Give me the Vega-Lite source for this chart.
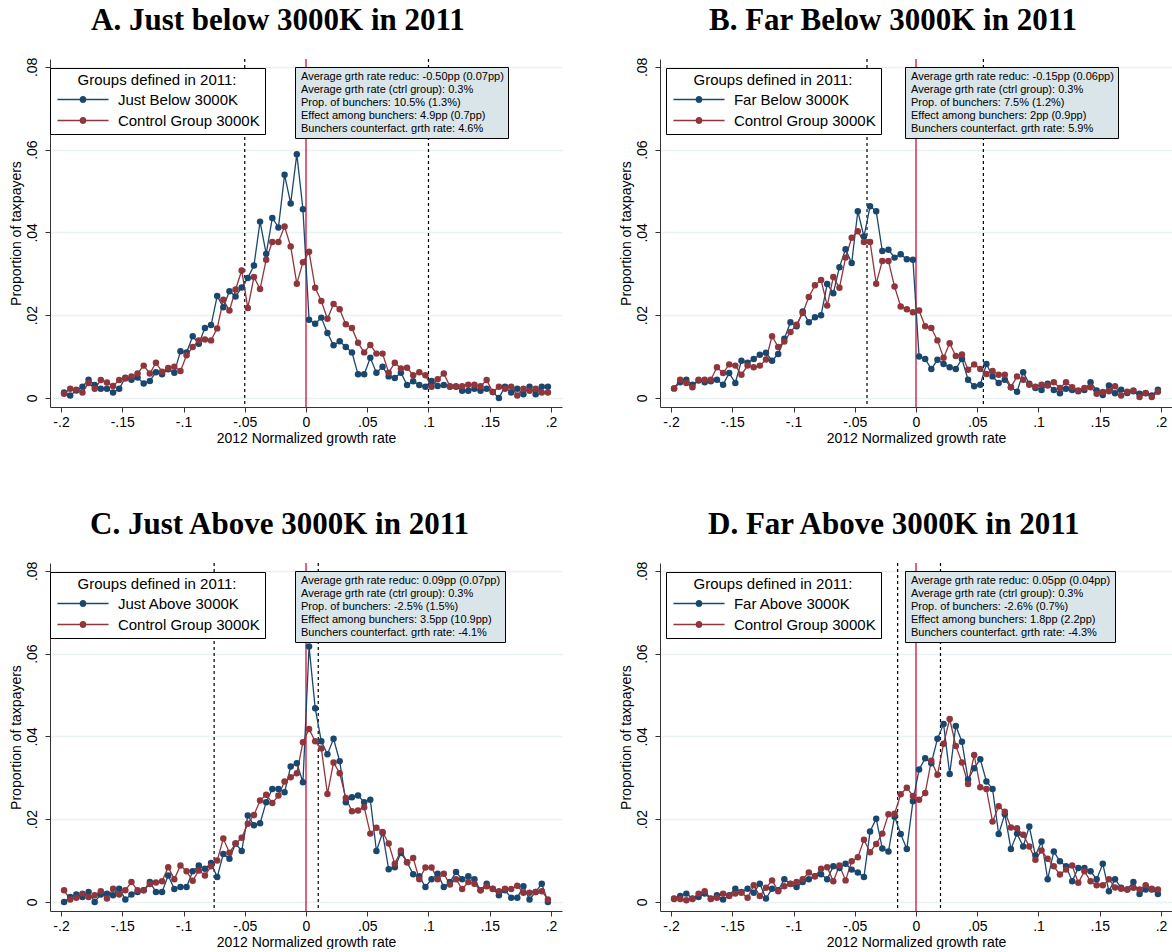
{
"$schema": "https://vega.github.io/schema/vega-lite/v6.json",
"background": "white",
"padding": {"left": 9, "top": 5, "right": 0, "bottom": 0},
"config": {
  "view": {"stroke": null},
  "font": "Liberation Sans",
  "axis": {"labelFont": "Liberation Sans", "titleFont": "Liberation Sans", "labelFontSize": 14, "titleFontSize": 14, "titleFontWeight": "normal", "labelColor": "#000", "titleColor": "#000", "domainColor": "#333", "tickColor": "#333", "tickSize": 5, "domainWidth": 1, "tickWidth": 1},
  "axisX": {"grid": false, "labelPadding": 3, "titlePadding": 2, "labelFlush": false},
  "axisY": {"grid": true, "gridColor": "#eaf2f3", "gridWidth": 1.5, "labelAngle": -90, "labelAlign": "center", "labelBaseline": "bottom", "labelPadding": 6, "titlePadding": 2},
  "title": {"font": "Liberation Serif", "fontSize": 31, "fontWeight": "bold", "color": "#000", "anchor": "start", "frame": "group", "offset": 20},
  "legend": {"labelFont": "Liberation Sans", "titleFont": "Liberation Sans", "labelColor": "#000", "titleColor": "#000"}
},
"datasets": {
"A": [
{"x":-0.1975,"Just Below 3000K":0.0013,"Control Group 3000K":0.0010},
{"x":-0.1925,"Just Below 3000K":0.0006,"Control Group 3000K":0.0022},
{"x":-0.1875,"Just Below 3000K":0.0018,"Control Group 3000K":0.0020},
{"x":-0.1825,"Just Below 3000K":0.0027,"Control Group 3000K":0.0013},
{"x":-0.1775,"Just Below 3000K":0.0044,"Control Group 3000K":0.0036},
{"x":-0.1725,"Just Below 3000K":0.0031,"Control Group 3000K":0.0022},
{"x":-0.1675,"Just Below 3000K":0.0022,"Control Group 3000K":0.0043},
{"x":-0.1625,"Just Below 3000K":0.0022,"Control Group 3000K":0.0037},
{"x":-0.1575,"Just Below 3000K":0.0013,"Control Group 3000K":0.0029},
{"x":-0.1525,"Just Below 3000K":0.0022,"Control Group 3000K":0.0043},
{"x":-0.1475,"Just Below 3000K":0.0049,"Control Group 3000K":0.0047},
{"x":-0.1425,"Just Below 3000K":0.0044,"Control Group 3000K":0.0052},
{"x":-0.1375,"Just Below 3000K":0.0049,"Control Group 3000K":0.0059},
{"x":-0.1325,"Just Below 3000K":0.0035,"Control Group 3000K":0.0078},
{"x":-0.1275,"Just Below 3000K":0.0041,"Control Group 3000K":0.0059},
{"x":-0.1225,"Just Below 3000K":0.0062,"Control Group 3000K":0.0085},
{"x":-0.1175,"Just Below 3000K":0.0057,"Control Group 3000K":0.0063},
{"x":-0.1125,"Just Below 3000K":0.0069,"Control Group 3000K":0.0072},
{"x":-0.1075,"Just Below 3000K":0.0061,"Control Group 3000K":0.0075},
{"x":-0.1025,"Just Below 3000K":0.0113,"Control Group 3000K":0.0065},
{"x":-0.0975,"Just Below 3000K":0.0110,"Control Group 3000K":0.0103},
{"x":-0.0925,"Just Below 3000K":0.0149,"Control Group 3000K":0.0123},
{"x":-0.0875,"Just Below 3000K":0.0131,"Control Group 3000K":0.0139},
{"x":-0.0825,"Just Below 3000K":0.0169,"Control Group 3000K":0.0141},
{"x":-0.0775,"Just Below 3000K":0.0176,"Control Group 3000K":0.0139},
{"x":-0.0725,"Just Below 3000K":0.0246,"Control Group 3000K":0.0168},
{"x":-0.0675,"Just Below 3000K":0.0219,"Control Group 3000K":0.0237},
{"x":-0.0625,"Just Below 3000K":0.0258,"Control Group 3000K":0.0211},
{"x":-0.0575,"Just Below 3000K":0.0245,"Control Group 3000K":0.0262},
{"x":-0.0525,"Just Below 3000K":0.0267,"Control Group 3000K":0.0308},
{"x":-0.0475,"Just Below 3000K":0.0290,"Control Group 3000K":0.0217},
{"x":-0.0425,"Just Below 3000K":0.0320,"Control Group 3000K":0.0292},
{"x":-0.0375,"Just Below 3000K":0.0426,"Control Group 3000K":0.0263},
{"x":-0.0325,"Just Below 3000K":0.0348,"Control Group 3000K":0.0334},
{"x":-0.0275,"Just Below 3000K":0.0435,"Control Group 3000K":0.0377},
{"x":-0.0225,"Just Below 3000K":0.0412,"Control Group 3000K":0.0377},
{"x":-0.0175,"Just Below 3000K":0.0539,"Control Group 3000K":0.0414},
{"x":-0.0125,"Just Below 3000K":0.0470,"Control Group 3000K":0.0366},
{"x":-0.0075,"Just Below 3000K":0.0589,"Control Group 3000K":0.0276},
{"x":-0.0025,"Just Below 3000K":0.0456,"Control Group 3000K":0.0328},
{"x":0.0025,"Just Below 3000K":0.0189,"Control Group 3000K":0.0353},
{"x":0.0075,"Just Below 3000K":0.0179,"Control Group 3000K":0.0266},
{"x":0.0125,"Just Below 3000K":0.0194,"Control Group 3000K":0.0234},
{"x":0.0175,"Just Below 3000K":0.0157,"Control Group 3000K":0.0191},
{"x":0.0225,"Just Below 3000K":0.0127,"Control Group 3000K":0.0227},
{"x":0.0275,"Just Below 3000K":0.0137,"Control Group 3000K":0.0214},
{"x":0.0325,"Just Below 3000K":0.0123,"Control Group 3000K":0.0178},
{"x":0.0375,"Just Below 3000K":0.0110,"Control Group 3000K":0.0169},
{"x":0.0425,"Just Below 3000K":0.0057,"Control Group 3000K":0.0133},
{"x":0.0475,"Just Below 3000K":0.0057,"Control Group 3000K":0.0110},
{"x":0.0525,"Just Below 3000K":0.0097,"Control Group 3000K":0.0128},
{"x":0.0575,"Just Below 3000K":0.0061,"Control Group 3000K":0.0107},
{"x":0.0625,"Just Below 3000K":0.0075,"Control Group 3000K":0.0107},
{"x":0.0675,"Just Below 3000K":0.0052,"Control Group 3000K":0.0061},
{"x":0.0725,"Just Below 3000K":0.0048,"Control Group 3000K":0.0085},
{"x":0.0775,"Just Below 3000K":0.0061,"Control Group 3000K":0.0071},
{"x":0.0825,"Just Below 3000K":0.0031,"Control Group 3000K":0.0073},
{"x":0.0875,"Just Below 3000K":0.0040,"Control Group 3000K":0.0055},
{"x":0.0925,"Just Below 3000K":0.0031,"Control Group 3000K":0.0062},
{"x":0.0975,"Just Below 3000K":0.0027,"Control Group 3000K":0.0055},
{"x":0.1025,"Just Below 3000K":0.0041,"Control Group 3000K":0.0027},
{"x":0.1075,"Just Below 3000K":0.0029,"Control Group 3000K":0.0045},
{"x":0.1125,"Just Below 3000K":0.0031,"Control Group 3000K":0.0059},
{"x":0.1175,"Just Below 3000K":0.0027,"Control Group 3000K":0.0028},
{"x":0.1225,"Just Below 3000K":0.0027,"Control Group 3000K":0.0028},
{"x":0.1275,"Just Below 3000K":0.0017,"Control Group 3000K":0.0028},
{"x":0.1325,"Just Below 3000K":0.0017,"Control Group 3000K":0.0032},
{"x":0.1375,"Just Below 3000K":0.0022,"Control Group 3000K":0.0032},
{"x":0.1425,"Just Below 3000K":0.0017,"Control Group 3000K":0.0028},
{"x":0.1475,"Just Below 3000K":0.0022,"Control Group 3000K":0.0043},
{"x":0.1525,"Just Below 3000K":0.0014,"Control Group 3000K":0.0014},
{"x":0.1575,"Just Below 3000K":0.0000,"Control Group 3000K":0.0027},
{"x":0.1625,"Just Below 3000K":0.0027,"Control Group 3000K":0.0022},
{"x":0.1675,"Just Below 3000K":0.0013,"Control Group 3000K":0.0027},
{"x":0.1725,"Just Below 3000K":0.0022,"Control Group 3000K":0.0006},
{"x":0.1775,"Just Below 3000K":0.0009,"Control Group 3000K":0.0022},
{"x":0.1825,"Just Below 3000K":0.0027,"Control Group 3000K":0.0017},
{"x":0.1875,"Just Below 3000K":0.0009,"Control Group 3000K":0.0022},
{"x":0.1925,"Just Below 3000K":0.0027,"Control Group 3000K":0.0013},
{"x":0.1975,"Just Below 3000K":0.0027,"Control Group 3000K":0.0013}
],
"B": [
{"x":-0.1975,"Far Below 3000K":0.0023,"Control Group 3000K":0.0023},
{"x":-0.1925,"Far Below 3000K":0.0038,"Control Group 3000K":0.0044},
{"x":-0.1875,"Far Below 3000K":0.0044,"Control Group 3000K":0.0036},
{"x":-0.1825,"Far Below 3000K":0.0032,"Control Group 3000K":0.0026},
{"x":-0.1775,"Far Below 3000K":0.0042,"Control Group 3000K":0.0044},
{"x":-0.1725,"Far Below 3000K":0.0038,"Control Group 3000K":0.0044},
{"x":-0.1675,"Far Below 3000K":0.0040,"Control Group 3000K":0.0044},
{"x":-0.1625,"Far Below 3000K":0.0044,"Control Group 3000K":0.0074},
{"x":-0.1575,"Far Below 3000K":0.0032,"Control Group 3000K":0.0060},
{"x":-0.1525,"Far Below 3000K":0.0060,"Control Group 3000K":0.0081},
{"x":-0.1475,"Far Below 3000K":0.0036,"Control Group 3000K":0.0078},
{"x":-0.1425,"Far Below 3000K":0.0090,"Control Group 3000K":0.0056},
{"x":-0.1375,"Far Below 3000K":0.0085,"Control Group 3000K":0.0078},
{"x":-0.1325,"Far Below 3000K":0.0094,"Control Group 3000K":0.0074},
{"x":-0.1275,"Far Below 3000K":0.0104,"Control Group 3000K":0.0078},
{"x":-0.1225,"Far Below 3000K":0.0109,"Control Group 3000K":0.0093},
{"x":-0.1175,"Far Below 3000K":0.0090,"Control Group 3000K":0.0149},
{"x":-0.1125,"Far Below 3000K":0.0106,"Control Group 3000K":0.0123},
{"x":-0.1075,"Far Below 3000K":0.0143,"Control Group 3000K":0.0136},
{"x":-0.1025,"Far Below 3000K":0.0183,"Control Group 3000K":0.0159},
{"x":-0.0975,"Far Below 3000K":0.0173,"Control Group 3000K":0.0177},
{"x":-0.0925,"Far Below 3000K":0.0209,"Control Group 3000K":0.0205},
{"x":-0.0875,"Far Below 3000K":0.0183,"Control Group 3000K":0.0244},
{"x":-0.0825,"Far Below 3000K":0.0195,"Control Group 3000K":0.0272},
{"x":-0.0775,"Far Below 3000K":0.0200,"Control Group 3000K":0.0285},
{"x":-0.0725,"Far Below 3000K":0.0275,"Control Group 3000K":0.0223},
{"x":-0.0675,"Far Below 3000K":0.0253,"Control Group 3000K":0.0292},
{"x":-0.0625,"Far Below 3000K":0.0316,"Control Group 3000K":0.0266},
{"x":-0.0575,"Far Below 3000K":0.0359,"Control Group 3000K":0.0339},
{"x":-0.0525,"Far Below 3000K":0.0326,"Control Group 3000K":0.0387},
{"x":-0.0475,"Far Below 3000K":0.0451,"Control Group 3000K":0.0403},
{"x":-0.0425,"Far Below 3000K":0.0390,"Control Group 3000K":0.0377},
{"x":-0.0375,"Far Below 3000K":0.0463,"Control Group 3000K":0.0377},
{"x":-0.0325,"Far Below 3000K":0.0451,"Control Group 3000K":0.0276},
{"x":-0.0275,"Far Below 3000K":0.0355,"Control Group 3000K":0.0331},
{"x":-0.0225,"Far Below 3000K":0.0358,"Control Group 3000K":0.0331},
{"x":-0.0175,"Far Below 3000K":0.0339,"Control Group 3000K":0.0269},
{"x":-0.0125,"Far Below 3000K":0.0347,"Control Group 3000K":0.0221},
{"x":-0.0075,"Far Below 3000K":0.0335,"Control Group 3000K":0.0214},
{"x":-0.0025,"Far Below 3000K":0.0334,"Control Group 3000K":0.0207},
{"x":0.0025,"Far Below 3000K":0.0100,"Control Group 3000K":0.0211},
{"x":0.0075,"Far Below 3000K":0.0094,"Control Group 3000K":0.0173},
{"x":0.0125,"Far Below 3000K":0.0070,"Control Group 3000K":0.0169},
{"x":0.0175,"Far Below 3000K":0.0092,"Control Group 3000K":0.0139},
{"x":0.0225,"Far Below 3000K":0.0082,"Control Group 3000K":0.0097},
{"x":0.0275,"Far Below 3000K":0.0074,"Control Group 3000K":0.0132},
{"x":0.0325,"Far Below 3000K":0.0070,"Control Group 3000K":0.0101},
{"x":0.0375,"Far Below 3000K":0.0094,"Control Group 3000K":0.0105},
{"x":0.0425,"Far Below 3000K":0.0044,"Control Group 3000K":0.0068},
{"x":0.0475,"Far Below 3000K":0.0028,"Control Group 3000K":0.0081},
{"x":0.0525,"Far Below 3000K":0.0032,"Control Group 3000K":0.0070},
{"x":0.0575,"Far Below 3000K":0.0082,"Control Group 3000K":0.0058},
{"x":0.0625,"Far Below 3000K":0.0052,"Control Group 3000K":0.0065},
{"x":0.0675,"Far Below 3000K":0.0036,"Control Group 3000K":0.0056},
{"x":0.0725,"Far Below 3000K":0.0044,"Control Group 3000K":0.0056},
{"x":0.0775,"Far Below 3000K":0.0026,"Control Group 3000K":0.0026},
{"x":0.0825,"Far Below 3000K":0.0015,"Control Group 3000K":0.0052},
{"x":0.0875,"Far Below 3000K":0.0062,"Control Group 3000K":0.0044},
{"x":0.0925,"Far Below 3000K":0.0034,"Control Group 3000K":0.0032},
{"x":0.0975,"Far Below 3000K":0.0024,"Control Group 3000K":0.0027},
{"x":0.1025,"Far Below 3000K":0.0019,"Control Group 3000K":0.0032},
{"x":0.1075,"Far Below 3000K":0.0034,"Control Group 3000K":0.0030},
{"x":0.1125,"Far Below 3000K":0.0019,"Control Group 3000K":0.0038},
{"x":0.1175,"Far Below 3000K":0.0011,"Control Group 3000K":0.0024},
{"x":0.1225,"Far Below 3000K":0.0022,"Control Group 3000K":0.0038},
{"x":0.1275,"Far Below 3000K":0.0019,"Control Group 3000K":0.0026},
{"x":0.1325,"Far Below 3000K":0.0016,"Control Group 3000K":0.0018},
{"x":0.1375,"Far Below 3000K":0.0019,"Control Group 3000K":0.0024},
{"x":0.1425,"Far Below 3000K":0.0038,"Control Group 3000K":0.0026},
{"x":0.1475,"Far Below 3000K":0.0018,"Control Group 3000K":0.0010},
{"x":0.1525,"Far Below 3000K":0.0007,"Control Group 3000K":0.0014},
{"x":0.1575,"Far Below 3000K":0.0030,"Control Group 3000K":0.0016},
{"x":0.1625,"Far Below 3000K":0.0011,"Control Group 3000K":0.0028},
{"x":0.1675,"Far Below 3000K":0.0020,"Control Group 3000K":0.0006},
{"x":0.1725,"Far Below 3000K":0.0012,"Control Group 3000K":0.0015},
{"x":0.1775,"Far Below 3000K":0.0016,"Control Group 3000K":0.0018},
{"x":0.1825,"Far Below 3000K":0.0010,"Control Group 3000K":0.0002},
{"x":0.1875,"Far Below 3000K":0.0011,"Control Group 3000K":0.0012},
{"x":0.1925,"Far Below 3000K":0.0006,"Control Group 3000K":0.0002},
{"x":0.1975,"Far Below 3000K":0.0020,"Control Group 3000K":0.0015}
],
"C": [
{"x":-0.1975,"Just Above 3000K":0.0000,"Control Group 3000K":0.0028},
{"x":-0.1925,"Just Above 3000K":0.0012,"Control Group 3000K":0.0006},
{"x":-0.1875,"Just Above 3000K":0.0018,"Control Group 3000K":0.0010},
{"x":-0.1825,"Just Above 3000K":0.0012,"Control Group 3000K":0.0020},
{"x":-0.1775,"Just Above 3000K":0.0024,"Control Group 3000K":0.0012},
{"x":-0.1725,"Just Above 3000K":0.0000,"Control Group 3000K":0.0016},
{"x":-0.1675,"Just Above 3000K":0.0018,"Control Group 3000K":0.0026},
{"x":-0.1625,"Just Above 3000K":0.0020,"Control Group 3000K":0.0008},
{"x":-0.1575,"Just Above 3000K":0.0016,"Control Group 3000K":0.0032},
{"x":-0.1525,"Just Above 3000K":0.0032,"Control Group 3000K":0.0018},
{"x":-0.1475,"Just Above 3000K":0.0006,"Control Group 3000K":0.0028},
{"x":-0.1425,"Just Above 3000K":0.0018,"Control Group 3000K":0.0048},
{"x":-0.1375,"Just Above 3000K":0.0024,"Control Group 3000K":0.0028},
{"x":-0.1325,"Just Above 3000K":0.0028,"Control Group 3000K":0.0028},
{"x":-0.1275,"Just Above 3000K":0.0048,"Control Group 3000K":0.0043},
{"x":-0.1225,"Just Above 3000K":0.0024,"Control Group 3000K":0.0047},
{"x":-0.1175,"Just Above 3000K":0.0024,"Control Group 3000K":0.0050},
{"x":-0.1125,"Just Above 3000K":0.0064,"Control Group 3000K":0.0084},
{"x":-0.1075,"Just Above 3000K":0.0031,"Control Group 3000K":0.0055},
{"x":-0.1025,"Just Above 3000K":0.0036,"Control Group 3000K":0.0088},
{"x":-0.0975,"Just Above 3000K":0.0036,"Control Group 3000K":0.0074},
{"x":-0.0925,"Just Above 3000K":0.0074,"Control Group 3000K":0.0051},
{"x":-0.0875,"Just Above 3000K":0.0088,"Control Group 3000K":0.0076},
{"x":-0.0825,"Just Above 3000K":0.0080,"Control Group 3000K":0.0064},
{"x":-0.0775,"Just Above 3000K":0.0094,"Control Group 3000K":0.0086},
{"x":-0.0725,"Just Above 3000K":0.0060,"Control Group 3000K":0.0100},
{"x":-0.0675,"Just Above 3000K":0.0116,"Control Group 3000K":0.0153},
{"x":-0.0625,"Just Above 3000K":0.0104,"Control Group 3000K":0.0119},
{"x":-0.0575,"Just Above 3000K":0.0141,"Control Group 3000K":0.0141},
{"x":-0.0525,"Just Above 3000K":0.0123,"Control Group 3000K":0.0155},
{"x":-0.0475,"Just Above 3000K":0.0209,"Control Group 3000K":0.0189},
{"x":-0.0425,"Just Above 3000K":0.0185,"Control Group 3000K":0.0210},
{"x":-0.0375,"Just Above 3000K":0.0190,"Control Group 3000K":0.0245},
{"x":-0.0325,"Just Above 3000K":0.0241,"Control Group 3000K":0.0259},
{"x":-0.0275,"Just Above 3000K":0.0273,"Control Group 3000K":0.0239},
{"x":-0.0225,"Just Above 3000K":0.0273,"Control Group 3000K":0.0257},
{"x":-0.0175,"Just Above 3000K":0.0265,"Control Group 3000K":0.0291},
{"x":-0.0125,"Just Above 3000K":0.0327,"Control Group 3000K":0.0301},
{"x":-0.0075,"Just Above 3000K":0.0335,"Control Group 3000K":0.0311},
{"x":-0.0025,"Just Above 3000K":0.0289,"Control Group 3000K":0.0386},
{"x":0.0025,"Just Above 3000K":0.0617,"Control Group 3000K":0.0418},
{"x":0.0075,"Just Above 3000K":0.0468,"Control Group 3000K":0.0388},
{"x":0.0125,"Just Above 3000K":0.0388,"Control Group 3000K":0.0371},
{"x":0.0175,"Just Above 3000K":0.0357,"Control Group 3000K":0.0261},
{"x":0.0225,"Just Above 3000K":0.0394,"Control Group 3000K":0.0337},
{"x":0.0275,"Just Above 3000K":0.0340,"Control Group 3000K":0.0311},
{"x":0.0325,"Just Above 3000K":0.0241,"Control Group 3000K":0.0251},
{"x":0.0375,"Just Above 3000K":0.0253,"Control Group 3000K":0.0219},
{"x":0.0425,"Just Above 3000K":0.0257,"Control Group 3000K":0.0221},
{"x":0.0475,"Just Above 3000K":0.0241,"Control Group 3000K":0.0229},
{"x":0.0525,"Just Above 3000K":0.0247,"Control Group 3000K":0.0165},
{"x":0.0575,"Just Above 3000K":0.0123,"Control Group 3000K":0.0179},
{"x":0.0625,"Just Above 3000K":0.0167,"Control Group 3000K":0.0169},
{"x":0.0675,"Just Above 3000K":0.0079,"Control Group 3000K":0.0141},
{"x":0.0725,"Just Above 3000K":0.0084,"Control Group 3000K":0.0092},
{"x":0.0775,"Just Above 3000K":0.0118,"Control Group 3000K":0.0124},
{"x":0.0825,"Just Above 3000K":0.0096,"Control Group 3000K":0.0096},
{"x":0.0875,"Just Above 3000K":0.0067,"Control Group 3000K":0.0106},
{"x":0.0925,"Just Above 3000K":0.0062,"Control Group 3000K":0.0055},
{"x":0.0975,"Just Above 3000K":0.0036,"Control Group 3000K":0.0083},
{"x":0.1025,"Just Above 3000K":0.0055,"Control Group 3000K":0.0083},
{"x":0.1075,"Just Above 3000K":0.0068,"Control Group 3000K":0.0055},
{"x":0.1125,"Just Above 3000K":0.0036,"Control Group 3000K":0.0068},
{"x":0.1175,"Just Above 3000K":0.0048,"Control Group 3000K":0.0042},
{"x":0.1225,"Just Above 3000K":0.0072,"Control Group 3000K":0.0055},
{"x":0.1275,"Just Above 3000K":0.0055,"Control Group 3000K":0.0031},
{"x":0.1325,"Just Above 3000K":0.0062,"Control Group 3000K":0.0048},
{"x":0.1375,"Just Above 3000K":0.0055,"Control Group 3000K":0.0044},
{"x":0.1425,"Just Above 3000K":0.0028,"Control Group 3000K":0.0028},
{"x":0.1475,"Just Above 3000K":0.0044,"Control Group 3000K":0.0038},
{"x":0.1525,"Just Above 3000K":0.0032,"Control Group 3000K":0.0031},
{"x":0.1575,"Just Above 3000K":0.0016,"Control Group 3000K":0.0026},
{"x":0.1625,"Just Above 3000K":0.0028,"Control Group 3000K":0.0032},
{"x":0.1675,"Just Above 3000K":0.0010,"Control Group 3000K":0.0031},
{"x":0.1725,"Just Above 3000K":0.0010,"Control Group 3000K":0.0039},
{"x":0.1775,"Just Above 3000K":0.0038,"Control Group 3000K":0.0022},
{"x":0.1825,"Just Above 3000K":0.0006,"Control Group 3000K":0.0022},
{"x":0.1875,"Just Above 3000K":0.0024,"Control Group 3000K":0.0024},
{"x":0.1925,"Just Above 3000K":0.0044,"Control Group 3000K":0.0026},
{"x":0.1975,"Just Above 3000K":0.0000,"Control Group 3000K":0.0006}
],
"D": [
{"x":-0.1975,"Far Above 3000K":0.0008,"Control Group 3000K":0.0007},
{"x":-0.1925,"Far Above 3000K":0.0014,"Control Group 3000K":0.0007},
{"x":-0.1875,"Far Above 3000K":0.0020,"Control Group 3000K":0.0004},
{"x":-0.1825,"Far Above 3000K":0.0008,"Control Group 3000K":0.0007},
{"x":-0.1775,"Far Above 3000K":0.0012,"Control Group 3000K":0.0020},
{"x":-0.1725,"Far Above 3000K":0.0020,"Control Group 3000K":0.0026},
{"x":-0.1675,"Far Above 3000K":0.0008,"Control Group 3000K":0.0007},
{"x":-0.1625,"Far Above 3000K":0.0016,"Control Group 3000K":0.0010},
{"x":-0.1575,"Far Above 3000K":0.0006,"Control Group 3000K":0.0020},
{"x":-0.1525,"Far Above 3000K":0.0016,"Control Group 3000K":0.0014},
{"x":-0.1475,"Far Above 3000K":0.0032,"Control Group 3000K":0.0020},
{"x":-0.1425,"Far Above 3000K":0.0024,"Control Group 3000K":0.0022},
{"x":-0.1375,"Far Above 3000K":0.0032,"Control Group 3000K":0.0010},
{"x":-0.1325,"Far Above 3000K":0.0022,"Control Group 3000K":0.0040},
{"x":-0.1275,"Far Above 3000K":0.0044,"Control Group 3000K":0.0014},
{"x":-0.1225,"Far Above 3000K":0.0008,"Control Group 3000K":0.0034},
{"x":-0.1175,"Far Above 3000K":0.0032,"Control Group 3000K":0.0052},
{"x":-0.1125,"Far Above 3000K":0.0028,"Control Group 3000K":0.0026},
{"x":-0.1075,"Far Above 3000K":0.0055,"Control Group 3000K":0.0038},
{"x":-0.1025,"Far Above 3000K":0.0043,"Control Group 3000K":0.0044},
{"x":-0.0975,"Far Above 3000K":0.0036,"Control Group 3000K":0.0048},
{"x":-0.0925,"Far Above 3000K":0.0048,"Control Group 3000K":0.0055},
{"x":-0.0875,"Far Above 3000K":0.0055,"Control Group 3000K":0.0071},
{"x":-0.0825,"Far Above 3000K":0.0062,"Control Group 3000K":0.0062},
{"x":-0.0775,"Far Above 3000K":0.0067,"Control Group 3000K":0.0080},
{"x":-0.0725,"Far Above 3000K":0.0055,"Control Group 3000K":0.0084},
{"x":-0.0675,"Far Above 3000K":0.0086,"Control Group 3000K":0.0050},
{"x":-0.0625,"Far Above 3000K":0.0082,"Control Group 3000K":0.0088},
{"x":-0.0575,"Far Above 3000K":0.0092,"Control Group 3000K":0.0052},
{"x":-0.0525,"Far Above 3000K":0.0078,"Control Group 3000K":0.0098},
{"x":-0.0475,"Far Above 3000K":0.0071,"Control Group 3000K":0.0108},
{"x":-0.0425,"Far Above 3000K":0.0060,"Control Group 3000K":0.0150},
{"x":-0.0375,"Far Above 3000K":0.0170,"Control Group 3000K":0.0120},
{"x":-0.0325,"Far Above 3000K":0.0201,"Control Group 3000K":0.0140},
{"x":-0.0275,"Far Above 3000K":0.0129,"Control Group 3000K":0.0165},
{"x":-0.0225,"Far Above 3000K":0.0122,"Control Group 3000K":0.0212},
{"x":-0.0175,"Far Above 3000K":0.0206,"Control Group 3000K":0.0213},
{"x":-0.0125,"Far Above 3000K":0.0164,"Control Group 3000K":0.0260},
{"x":-0.0075,"Far Above 3000K":0.0128,"Control Group 3000K":0.0276},
{"x":-0.0025,"Far Above 3000K":0.0243,"Control Group 3000K":0.0256},
{"x":0.0025,"Far Above 3000K":0.0320,"Control Group 3000K":0.0247},
{"x":0.0075,"Far Above 3000K":0.0347,"Control Group 3000K":0.0263},
{"x":0.0125,"Far Above 3000K":0.0335,"Control Group 3000K":0.0341},
{"x":0.0175,"Far Above 3000K":0.0394,"Control Group 3000K":0.0307},
{"x":0.0225,"Far Above 3000K":0.0430,"Control Group 3000K":0.0382},
{"x":0.0275,"Far Above 3000K":0.0309,"Control Group 3000K":0.0442},
{"x":0.0325,"Far Above 3000K":0.0425,"Control Group 3000K":0.0377},
{"x":0.0375,"Far Above 3000K":0.0387,"Control Group 3000K":0.0337},
{"x":0.0425,"Far Above 3000K":0.0296,"Control Group 3000K":0.0285},
{"x":0.0475,"Far Above 3000K":0.0323,"Control Group 3000K":0.0355},
{"x":0.0525,"Far Above 3000K":0.0345,"Control Group 3000K":0.0277},
{"x":0.0575,"Far Above 3000K":0.0291,"Control Group 3000K":0.0273},
{"x":0.0625,"Far Above 3000K":0.0273,"Control Group 3000K":0.0194},
{"x":0.0675,"Far Above 3000K":0.0164,"Control Group 3000K":0.0231},
{"x":0.0725,"Far Above 3000K":0.0212,"Control Group 3000K":0.0218},
{"x":0.0775,"Far Above 3000K":0.0128,"Control Group 3000K":0.0180},
{"x":0.0825,"Far Above 3000K":0.0165,"Control Group 3000K":0.0178},
{"x":0.0875,"Far Above 3000K":0.0134,"Control Group 3000K":0.0162},
{"x":0.0925,"Far Above 3000K":0.0182,"Control Group 3000K":0.0134},
{"x":0.0975,"Far Above 3000K":0.0112,"Control Group 3000K":0.0102},
{"x":0.1025,"Far Above 3000K":0.0146,"Control Group 3000K":0.0124},
{"x":0.1075,"Far Above 3000K":0.0055,"Control Group 3000K":0.0104},
{"x":0.1125,"Far Above 3000K":0.0122,"Control Group 3000K":0.0086},
{"x":0.1175,"Far Above 3000K":0.0098,"Control Group 3000K":0.0066},
{"x":0.1225,"Far Above 3000K":0.0086,"Control Group 3000K":0.0078},
{"x":0.1275,"Far Above 3000K":0.0050,"Control Group 3000K":0.0088},
{"x":0.1325,"Far Above 3000K":0.0082,"Control Group 3000K":0.0046},
{"x":0.1375,"Far Above 3000K":0.0082,"Control Group 3000K":0.0074},
{"x":0.1425,"Far Above 3000K":0.0074,"Control Group 3000K":0.0050},
{"x":0.1475,"Far Above 3000K":0.0055,"Control Group 3000K":0.0040},
{"x":0.1525,"Far Above 3000K":0.0092,"Control Group 3000K":0.0040},
{"x":0.1575,"Far Above 3000K":0.0026,"Control Group 3000K":0.0055},
{"x":0.1625,"Far Above 3000K":0.0055,"Control Group 3000K":0.0035},
{"x":0.1675,"Far Above 3000K":0.0034,"Control Group 3000K":0.0032},
{"x":0.1725,"Far Above 3000K":0.0030,"Control Group 3000K":0.0030},
{"x":0.1775,"Far Above 3000K":0.0048,"Control Group 3000K":0.0034},
{"x":0.1825,"Far Above 3000K":0.0019,"Control Group 3000K":0.0030},
{"x":0.1875,"Far Above 3000K":0.0030,"Control Group 3000K":0.0040},
{"x":0.1925,"Far Above 3000K":0.0030,"Control Group 3000K":0.0032},
{"x":0.1975,"Far Above 3000K":0.0019,"Control Group 3000K":0.0030}
]
},
"spacing": 64,
"resolve": {"scale": {"color": "independent", "shape": "independent", "stroke": "independent"}},
"vconcat": [
{"hconcat": [
{"width": 512, "height": 348,
 "title": {"text": "A. Just below 3000K in 2011", "dx": 41},
 "layer": [
  {"data": {"values": [{"x": -0.05}, {"x": 0.1}]}, "mark": {"type": "rule", "strokeDash": [3, 3], "color": "#000", "strokeWidth": 1.2}, "encoding": {"x": {"field": "x", "type": "quantitative"}}},
  {"data": {"values": [{"x": 0}]}, "mark": {"type": "rule", "color": "#d0103a", "strokeWidth": 1.3}, "encoding": {"x": {"field": "x", "type": "quantitative"}}},
  {"data": {"name": "A"}, "transform": [{"fold": ["Just Below 3000K", "Control Group 3000K"], "as": ["series", "value"]}],
   "mark": {"type": "line", "strokeWidth": 1.3},
   "encoding": {
    "x": {"field": "x", "type": "quantitative", "scale": {"domain": [-0.209, 0.209], "nice": false, "zero": false}, "axis": {"values": [-0.2, -0.15, -0.1, -0.05, 0, 0.05, 0.1, 0.15, 0.2], "labelExpr": "datum.value == 0 ? '0' : (datum.value < 0 ? '-' : '') + replace(format(abs(datum.value), '.2~f'), '0.', '.')", "title": "2012 Normalized growth rate"}},
    "y": {"field": "value", "type": "quantitative", "scale": {"domain": [-0.0022, 0.0819], "nice": false, "zero": false}, "axis": {"values": [0, 0.02, 0.04, 0.06, 0.08], "labelExpr": "datum.value == 0 ? '0' : replace(format(datum.value, '.2f'), '0.', '.')", "title": "Proportion of taxpayers"}},
    "stroke": {"field": "series", "type": "nominal", "scale": {"domain": ["Control Group 3000K", "Just Below 3000K"], "range": ["#90353b", "#1a476f"]}, "legend": null}}},
  {"data": {"name": "A"}, "transform": [{"fold": ["Just Below 3000K", "Control Group 3000K"], "as": ["series", "value"]}],
   "mark": {"type": "point", "filled": true, "size": 42, "opacity": 1},
   "encoding": {
    "x": {"field": "x", "type": "quantitative"},
    "y": {"field": "value", "type": "quantitative"},
    "color": {"field": "series", "type": "nominal", "scale": {"domain": ["Just Below 3000K", "Control Group 3000K"], "range": ["#1a476f", "#90353b"]},
     "legend": {"orient": "none", "legendX": 0, "legendY": 9, "title": "Groups defined in 2011:", "titleFontSize": 15, "titleFontWeight": "normal", "titleAnchor": "middle", "titlePadding": 4, "labelFontSize": 15, "symbolType": "M-7.3,-0.2H-1V0.2H-7.3ZM1,-0.2H7.3V0.2H1ZM-1,0A1,1 0 1,1 1,0A1,1 0 1,1 -1,0Z", "symbolSize": 49, "symbolOffset": 20.5, "labelOffset": 27.4, "symbolStrokeWidth": 0, "rowPadding": 5, "padding": 5, "fillColor": "#fff", "strokeColor": "#000", "labelLimit": 300}}}},
  {"data": {"values": [{"info": "Average grth rate reduc: -0.50pp (0.07pp)"}, {"info": "Average grth rate (ctrl group): 0.3%"}, {"info": "Prop. of bunchers: 10.5% (1.3%)"}, {"info": "Effect among bunchers: 4.9pp (0.7pp)"}, {"info": "Bunchers counterfact. grth rate: 4.6%"}]},
   "mark": {"type": "point", "opacity": 0},
   "encoding": {"shape": {"field": "info", "type": "nominal", "sort": null, "legend": {"orient": "none", "legendX": 245, "legendY": 8, "title": null, "labelFontSize": 11, "symbolSize": 0, "symbolOpacity": 0, "symbolStrokeWidth": 0, "labelOffset": -9, "rowPadding": 1, "padding": 4, "fillColor": "#d9e5e9", "strokeColor": "#000", "labelLimit": 400}}}}
 ]},
{"width": 512, "height": 348,
 "title": {"text": "B. Far Below 3000K in 2011", "dx": 49},
 "layer": [
  {"data": {"values": [{"x": -0.04}, {"x": 0.055}]}, "mark": {"type": "rule", "strokeDash": [3, 3], "color": "#000", "strokeWidth": 1.2}, "encoding": {"x": {"field": "x", "type": "quantitative"}}},
  {"data": {"values": [{"x": 0}]}, "mark": {"type": "rule", "color": "#d0103a", "strokeWidth": 1.3}, "encoding": {"x": {"field": "x", "type": "quantitative"}}},
  {"data": {"name": "B"}, "transform": [{"fold": ["Far Below 3000K", "Control Group 3000K"], "as": ["series", "value"]}],
   "mark": {"type": "line", "strokeWidth": 1.3},
   "encoding": {
    "x": {"field": "x", "type": "quantitative", "scale": {"domain": [-0.209, 0.209], "nice": false, "zero": false}, "axis": {"values": [-0.2, -0.15, -0.1, -0.05, 0, 0.05, 0.1, 0.15, 0.2], "labelExpr": "datum.value == 0 ? '0' : (datum.value < 0 ? '-' : '') + replace(format(abs(datum.value), '.2~f'), '0.', '.')", "title": "2012 Normalized growth rate"}},
    "y": {"field": "value", "type": "quantitative", "scale": {"domain": [-0.0022, 0.0819], "nice": false, "zero": false}, "axis": {"values": [0, 0.02, 0.04, 0.06, 0.08], "labelExpr": "datum.value == 0 ? '0' : replace(format(datum.value, '.2f'), '0.', '.')", "title": "Proportion of taxpayers"}},
    "stroke": {"field": "series", "type": "nominal", "scale": {"domain": ["Control Group 3000K", "Far Below 3000K"], "range": ["#90353b", "#1a476f"]}, "legend": null}}},
  {"data": {"name": "B"}, "transform": [{"fold": ["Far Below 3000K", "Control Group 3000K"], "as": ["series", "value"]}],
   "mark": {"type": "point", "filled": true, "size": 42, "opacity": 1},
   "encoding": {
    "x": {"field": "x", "type": "quantitative"},
    "y": {"field": "value", "type": "quantitative"},
    "color": {"field": "series", "type": "nominal", "scale": {"domain": ["Far Below 3000K", "Control Group 3000K"], "range": ["#1a476f", "#90353b"]},
     "legend": {"orient": "none", "legendX": 6, "legendY": 9, "title": "Groups defined in 2011:", "titleFontSize": 15, "titleFontWeight": "normal", "titleAnchor": "middle", "titlePadding": 4, "labelFontSize": 15, "symbolType": "M-7.3,-0.2H-1V0.2H-7.3ZM1,-0.2H7.3V0.2H1ZM-1,0A1,1 0 1,1 1,0A1,1 0 1,1 -1,0Z", "symbolSize": 49, "symbolOffset": 20.5, "labelOffset": 27.4, "symbolStrokeWidth": 0, "rowPadding": 5, "padding": 5, "fillColor": "#fff", "strokeColor": "#000", "labelLimit": 300}}}},
  {"data": {"values": [{"info": "Average grth rate reduc: -0.15pp (0.06pp)"}, {"info": "Average grth rate (ctrl group): 0.3%"}, {"info": "Prop. of bunchers: 7.5% (1.2%)"}, {"info": "Effect among bunchers: 2pp (0.9pp)"}, {"info": "Bunchers counterfact. grth rate: 5.9%"}]},
   "mark": {"type": "point", "opacity": 0},
   "encoding": {"shape": {"field": "info", "type": "nominal", "sort": null, "legend": {"orient": "none", "legendX": 245, "legendY": 8, "title": null, "labelFontSize": 11, "symbolSize": 0, "symbolOpacity": 0, "symbolStrokeWidth": 0, "labelOffset": -9, "rowPadding": 1, "padding": 4, "fillColor": "#d9e5e9", "strokeColor": "#000", "labelLimit": 400}}}}
 ]}
], "spacing": 57, "resolve": {"scale": {"color": "independent", "shape": "independent", "stroke": "independent"}}},
{"hconcat": [
{"width": 512, "height": 348,
 "title": {"text": "C. Just Above 3000K in 2011", "dx": 40},
 "layer": [
  {"data": {"values": [{"x": -0.075}, {"x": 0.01}]}, "mark": {"type": "rule", "strokeDash": [3, 3], "color": "#000", "strokeWidth": 1.2}, "encoding": {"x": {"field": "x", "type": "quantitative"}}},
  {"data": {"values": [{"x": 0}]}, "mark": {"type": "rule", "color": "#d0103a", "strokeWidth": 1.3}, "encoding": {"x": {"field": "x", "type": "quantitative"}}},
  {"data": {"name": "C"}, "transform": [{"fold": ["Just Above 3000K", "Control Group 3000K"], "as": ["series", "value"]}],
   "mark": {"type": "line", "strokeWidth": 1.3},
   "encoding": {
    "x": {"field": "x", "type": "quantitative", "scale": {"domain": [-0.209, 0.209], "nice": false, "zero": false}, "axis": {"values": [-0.2, -0.15, -0.1, -0.05, 0, 0.05, 0.1, 0.15, 0.2], "labelExpr": "datum.value == 0 ? '0' : (datum.value < 0 ? '-' : '') + replace(format(abs(datum.value), '.2~f'), '0.', '.')", "title": "2012 Normalized growth rate"}},
    "y": {"field": "value", "type": "quantitative", "scale": {"domain": [-0.0022, 0.0819], "nice": false, "zero": false}, "axis": {"values": [0, 0.02, 0.04, 0.06, 0.08], "labelExpr": "datum.value == 0 ? '0' : replace(format(datum.value, '.2f'), '0.', '.')", "title": "Proportion of taxpayers"}},
    "stroke": {"field": "series", "type": "nominal", "scale": {"domain": ["Control Group 3000K", "Just Above 3000K"], "range": ["#90353b", "#1a476f"]}, "legend": null}}},
  {"data": {"name": "C"}, "transform": [{"fold": ["Just Above 3000K", "Control Group 3000K"], "as": ["series", "value"]}],
   "mark": {"type": "point", "filled": true, "size": 42, "opacity": 1},
   "encoding": {
    "x": {"field": "x", "type": "quantitative"},
    "y": {"field": "value", "type": "quantitative"},
    "color": {"field": "series", "type": "nominal", "scale": {"domain": ["Just Above 3000K", "Control Group 3000K"], "range": ["#1a476f", "#90353b"]},
     "legend": {"orient": "none", "legendX": 0, "legendY": 9, "title": "Groups defined in 2011:", "titleFontSize": 15, "titleFontWeight": "normal", "titleAnchor": "middle", "titlePadding": 4, "labelFontSize": 15, "symbolType": "M-7.3,-0.2H-1V0.2H-7.3ZM1,-0.2H7.3V0.2H1ZM-1,0A1,1 0 1,1 1,0A1,1 0 1,1 -1,0Z", "symbolSize": 49, "symbolOffset": 20.5, "labelOffset": 27.4, "symbolStrokeWidth": 0, "rowPadding": 5, "padding": 5, "fillColor": "#fff", "strokeColor": "#000", "labelLimit": 300}}}},
  {"data": {"values": [{"info": "Average grth rate reduc: 0.09pp (0.07pp)"}, {"info": "Average grth rate (ctrl group): 0.3%"}, {"info": "Prop. of bunchers: -2.5% (1.5%)"}, {"info": "Effect among bunchers: 3.5pp (10.9pp)"}, {"info": "Bunchers counterfact. grth rate: -4.1%"}]},
   "mark": {"type": "point", "opacity": 0},
   "encoding": {"shape": {"field": "info", "type": "nominal", "sort": null, "legend": {"orient": "none", "legendX": 245, "legendY": 8, "title": null, "labelFontSize": 11, "symbolSize": 0, "symbolOpacity": 0, "symbolStrokeWidth": 0, "labelOffset": -9, "rowPadding": 1, "padding": 4, "fillColor": "#d9e5e9", "strokeColor": "#000", "labelLimit": 400}}}}
 ]},
{"width": 512, "height": 348,
 "title": {"text": "D. Far Above 3000K in 2011", "dx": 48},
 "layer": [
  {"data": {"values": [{"x": -0.015}, {"x": 0.02}]}, "mark": {"type": "rule", "strokeDash": [3, 3], "color": "#000", "strokeWidth": 1.2}, "encoding": {"x": {"field": "x", "type": "quantitative"}}},
  {"data": {"values": [{"x": 0}]}, "mark": {"type": "rule", "color": "#d0103a", "strokeWidth": 1.3}, "encoding": {"x": {"field": "x", "type": "quantitative"}}},
  {"data": {"name": "D"}, "transform": [{"fold": ["Far Above 3000K", "Control Group 3000K"], "as": ["series", "value"]}],
   "mark": {"type": "line", "strokeWidth": 1.3},
   "encoding": {
    "x": {"field": "x", "type": "quantitative", "scale": {"domain": [-0.209, 0.209], "nice": false, "zero": false}, "axis": {"values": [-0.2, -0.15, -0.1, -0.05, 0, 0.05, 0.1, 0.15, 0.2], "labelExpr": "datum.value == 0 ? '0' : (datum.value < 0 ? '-' : '') + replace(format(abs(datum.value), '.2~f'), '0.', '.')", "title": "2012 Normalized growth rate"}},
    "y": {"field": "value", "type": "quantitative", "scale": {"domain": [-0.0022, 0.0819], "nice": false, "zero": false}, "axis": {"values": [0, 0.02, 0.04, 0.06, 0.08], "labelExpr": "datum.value == 0 ? '0' : replace(format(datum.value, '.2f'), '0.', '.')", "title": "Proportion of taxpayers"}},
    "stroke": {"field": "series", "type": "nominal", "scale": {"domain": ["Control Group 3000K", "Far Above 3000K"], "range": ["#90353b", "#1a476f"]}, "legend": null}}},
  {"data": {"name": "D"}, "transform": [{"fold": ["Far Above 3000K", "Control Group 3000K"], "as": ["series", "value"]}],
   "mark": {"type": "point", "filled": true, "size": 42, "opacity": 1},
   "encoding": {
    "x": {"field": "x", "type": "quantitative"},
    "y": {"field": "value", "type": "quantitative"},
    "color": {"field": "series", "type": "nominal", "scale": {"domain": ["Far Above 3000K", "Control Group 3000K"], "range": ["#1a476f", "#90353b"]},
     "legend": {"orient": "none", "legendX": 6, "legendY": 9, "title": "Groups defined in 2011:", "titleFontSize": 15, "titleFontWeight": "normal", "titleAnchor": "middle", "titlePadding": 4, "labelFontSize": 15, "symbolType": "M-7.3,-0.2H-1V0.2H-7.3ZM1,-0.2H7.3V0.2H1ZM-1,0A1,1 0 1,1 1,0A1,1 0 1,1 -1,0Z", "symbolSize": 49, "symbolOffset": 20.5, "labelOffset": 27.4, "symbolStrokeWidth": 0, "rowPadding": 5, "padding": 5, "fillColor": "#fff", "strokeColor": "#000", "labelLimit": 300}}}},
  {"data": {"values": [{"info": "Average grth rate reduc: 0.05pp (0.04pp)"}, {"info": "Average grth rate (ctrl group): 0.3%"}, {"info": "Prop. of bunchers: -2.6% (0.7%)"}, {"info": "Effect among bunchers: 1.8pp (2.2pp)"}, {"info": "Bunchers counterfact. grth rate: -4.3%"}]},
   "mark": {"type": "point", "opacity": 0},
   "encoding": {"shape": {"field": "info", "type": "nominal", "sort": null, "legend": {"orient": "none", "legendX": 245, "legendY": 8, "title": null, "labelFontSize": 11, "symbolSize": 0, "symbolOpacity": 0, "symbolStrokeWidth": 0, "labelOffset": -9, "rowPadding": 1, "padding": 4, "fillColor": "#d9e5e9", "strokeColor": "#000", "labelLimit": 400}}}}
 ]}
], "spacing": 57, "resolve": {"scale": {"color": "independent", "shape": "independent", "stroke": "independent"}}}
]
}
